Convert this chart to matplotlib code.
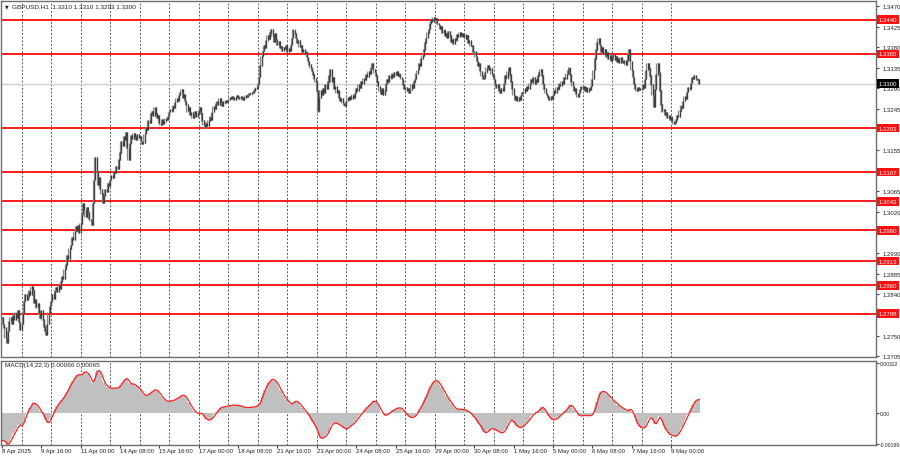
import numpy as np
import matplotlib
matplotlib.use("Agg")
import matplotlib.pyplot as plt
from matplotlib import font_manager
import matplotlib.transforms as mtransforms

# ---------------- data (GBPUSD H1, hourly closes) ----------------
close = [
    # 8 Apr 08:00-23:00
    1.2790, 1.2775, 1.2768, 1.2745, 1.2735, 1.2760, 1.2782, 1.2790, 1.2775, 1.2795, 1.2785, 1.2800, 1.2790, 1.2805, 1.2780, 1.2762,
    # 9 Apr
    1.2775, 1.2800, 1.2825, 1.2840, 1.2828, 1.2835, 1.2848, 1.2840, 1.2858, 1.2850, 1.2822, 1.2830, 1.2812, 1.2820, 1.2800, 1.2790,
    1.2805, 1.2785, 1.2770, 1.2760, 1.2752, 1.2775, 1.2800, 1.2815,
    # 10 Apr
    1.2825, 1.2840, 1.2830, 1.2848, 1.2855, 1.2845, 1.2860, 1.2852, 1.2868, 1.2880, 1.2875, 1.2895, 1.2905, 1.2925, 1.2918, 1.2940,
    1.2948, 1.2965, 1.2960, 1.2978, 1.2988, 1.2980, 1.2992, 1.2975,
    # 11 Apr
    1.2995, 1.3015, 1.3040, 1.3025, 1.3010, 1.3030, 1.3020, 1.3005, 1.3000, 1.2992, 1.3040, 1.3090, 1.3140, 1.3110, 1.3080, 1.3095,
    1.3070, 1.3060, 1.3040, 1.3055, 1.3070, 1.3065, 1.3082, 1.3078,
    # 14 Apr
    1.3090, 1.3100, 1.3095, 1.3110, 1.3105, 1.3120, 1.3115, 1.3135, 1.3150, 1.3175, 1.3165, 1.3185, 1.3178, 1.3195, 1.3160, 1.3135,
    1.3170, 1.3188, 1.3180, 1.3192, 1.3185, 1.3178, 1.3190, 1.3182,
    # 15 Apr
    1.3185, 1.3175, 1.3168, 1.3172, 1.3190, 1.3205, 1.3200, 1.3220, 1.3215, 1.3235, 1.3240, 1.3230, 1.3248, 1.3235, 1.3225, 1.3232,
    1.3215, 1.3210, 1.3222, 1.3212, 1.3218, 1.3225, 1.3222, 1.3230,
    # 16 Apr
    1.3238, 1.3245, 1.3240, 1.3252, 1.3248, 1.3260, 1.3268, 1.3262, 1.3275, 1.3282, 1.3288, 1.3270, 1.3278, 1.3262, 1.3255, 1.3240,
    1.3248, 1.3232, 1.3238, 1.3225, 1.3232, 1.3240, 1.3228, 1.3235,
    # 17 Apr
    1.3242, 1.3248, 1.3235, 1.3220, 1.3210, 1.3205, 1.3215, 1.3208, 1.3220, 1.3228, 1.3222, 1.3238, 1.3250, 1.3245, 1.3258, 1.3262,
    1.3255, 1.3268, 1.3260, 1.3252, 1.3262, 1.3258, 1.3265, 1.3260,
    # 18 Apr
    1.3265, 1.3270, 1.3268, 1.3272, 1.3270, 1.3266, 1.3270, 1.3274, 1.3271, 1.3268, 1.3272, 1.3270, 1.3266, 1.3270, 1.3275, 1.3272,
    1.3276, 1.3280, 1.3277, 1.3282, 1.3280, 1.3285, 1.3290, 1.3292,
    # 21 Apr
    1.3300, 1.3315, 1.3340, 1.3360, 1.3372, 1.3385, 1.3378, 1.3395, 1.3405, 1.3398, 1.3412, 1.3420, 1.3405, 1.3392, 1.3410, 1.3398,
    1.3385, 1.3392, 1.3378, 1.3382, 1.3372, 1.3380, 1.3376, 1.3384,
    # 22 Apr
    1.3370, 1.3378, 1.3372, 1.3385, 1.3400, 1.3418, 1.3410, 1.3400, 1.3390, 1.3395, 1.3380, 1.3385, 1.3370, 1.3375, 1.3365, 1.3370,
    1.3358, 1.3350, 1.3342, 1.3335, 1.3328, 1.3320, 1.3312, 1.3305,
    # 23 Apr
    1.3285, 1.3240, 1.3270, 1.3285, 1.3275, 1.3290, 1.3280, 1.3298, 1.3290, 1.3305, 1.3318, 1.3332, 1.3305, 1.3315, 1.3290, 1.3295,
    1.3280, 1.3285, 1.3270, 1.3262, 1.3268, 1.3258, 1.3255, 1.3252,
    # 24 Apr
    1.3262, 1.3270, 1.3265, 1.3272, 1.3268, 1.3276, 1.3270, 1.3280, 1.3290, 1.3285, 1.3298, 1.3292, 1.3305, 1.3300, 1.3312, 1.3308,
    1.3320, 1.3315, 1.3328, 1.3322, 1.3335, 1.3345, 1.3332, 1.3325,
    # 25 Apr
    1.3318, 1.3305, 1.3295, 1.3285, 1.3278, 1.3290, 1.3275, 1.3285, 1.3300, 1.3310, 1.3305, 1.3318, 1.3312, 1.3322, 1.3315, 1.3325,
    1.3320, 1.3328, 1.3318, 1.3322, 1.3315, 1.3310, 1.3298, 1.3290,
    # 28 Apr
    1.3292, 1.3285, 1.3290, 1.3280, 1.3286, 1.3298, 1.3292, 1.3305, 1.3310, 1.3322, 1.3330, 1.3345, 1.3340, 1.3355, 1.3362, 1.3375,
    1.3390, 1.3400, 1.3412, 1.3420, 1.3432, 1.3440, 1.3435, 1.3445,
    # 29 Apr
    1.3440, 1.3443, 1.3432, 1.3428, 1.3420, 1.3425, 1.3412, 1.3418, 1.3405, 1.3410, 1.3400, 1.3415, 1.3405, 1.3392, 1.3398, 1.3388,
    1.3400, 1.3395, 1.3408, 1.3402, 1.3412, 1.3405, 1.3410, 1.3402,
    # 30 Apr
    1.3408, 1.3398, 1.3405, 1.3390, 1.3395, 1.3382, 1.3385, 1.3370, 1.3372, 1.3360, 1.3350, 1.3340, 1.3345, 1.3328, 1.3318, 1.3310,
    1.3312, 1.3325, 1.3335, 1.3340, 1.3330, 1.3335, 1.3322, 1.3318,
    # 1 May
    1.3310, 1.3300, 1.3292, 1.3298, 1.3285, 1.3280, 1.3290, 1.3285, 1.3300, 1.3318, 1.3312, 1.3328, 1.3336, 1.3320, 1.3305, 1.3290,
    1.3275, 1.3266, 1.3272, 1.3262, 1.3270, 1.3265, 1.3275, 1.3282,
    # 2 May
    1.3280, 1.3290, 1.3285, 1.3295, 1.3290, 1.3300, 1.3310, 1.3305, 1.3315, 1.3300, 1.3310, 1.3305, 1.3318, 1.3325, 1.3332, 1.3318,
    1.3300, 1.3290, 1.3280, 1.3275, 1.3270, 1.3265, 1.3272, 1.3268,
    # 5 May
    1.3275, 1.3285, 1.3280, 1.3292, 1.3288, 1.3300, 1.3295, 1.3305, 1.3300, 1.3315, 1.3310, 1.3322, 1.3330, 1.3335, 1.3320, 1.3305,
    1.3295, 1.3285, 1.3290, 1.3278, 1.3272, 1.3280, 1.3288, 1.3295,
    # 6 May
    1.3288, 1.3295, 1.3285, 1.3292, 1.3282, 1.3290, 1.3286, 1.3295, 1.3310, 1.3330, 1.3355, 1.3375, 1.3390, 1.3400, 1.3385, 1.3370,
    1.3380, 1.3365, 1.3375, 1.3360, 1.3368, 1.3355, 1.3362, 1.3350,
    # 7 May
    1.3358, 1.3365, 1.3352, 1.3360, 1.3348, 1.3355, 1.3345, 1.3358, 1.3350, 1.3345, 1.3352, 1.3342, 1.3350, 1.3365, 1.3375, 1.3350,
    1.3330, 1.3315, 1.3300, 1.3290, 1.3285, 1.3292, 1.3286, 1.3290,
    # 8 May
    1.3288, 1.3298, 1.3292, 1.3310, 1.3330, 1.3345, 1.3335, 1.3318, 1.3298, 1.3275, 1.3250, 1.3288, 1.3320, 1.3345, 1.3325, 1.3285,
    1.3255, 1.3240, 1.3245, 1.3232, 1.3238, 1.3225, 1.3232, 1.3222,
    # 9 May
    1.3228, 1.3218, 1.3212, 1.3215, 1.3222, 1.3232, 1.3228, 1.3242, 1.3252, 1.3248, 1.3262, 1.3272, 1.3268, 1.3282, 1.3292, 1.3288,
    1.3302, 1.3315, 1.3310, 1.3318, 1.3312, 1.3308, 1.3310, 1.3300,
]

level_prices = [1.3440, 1.3365, 1.3203, 1.3107, 1.3043, 1.2980, 1.2913, 1.2860, 1.2798]
level_labels = ["1.3440", "1.3365", "1.3203", "1.3107", "1.3043", "1.2980", "1.2913", "1.2860", "1.2798"]
current_price = 1.3300
current_label = "1.3300"

price_ticks = [1.3470, 1.3425, 1.3380, 1.3335, 1.3290, 1.3245, 1.3200, 1.3155, 1.3110,
               1.3065, 1.3020, 1.2975, 1.2930, 1.2885, 1.2840, 1.2795, 1.2750, 1.2705]
# labels hidden behind the level boxes in the reference are left blank
price_tick_labels = ["1.3470", "1.3425", "1.3380", "1.3335", "1.3290", "1.3245", "", "1.3155", "",
                     "1.3065", "1.3020", "", "1.2930", "1.2885", "1.2840", "", "1.2750", "1.2705"]

day_start_bars = [16, 40, 64, 88, 112, 136, 160, 184, 208, 232, 256, 280, 304, 328, 352,
                  376, 400, 424, 448, 472, 496, 520, 544]
date_label_bars = [0, 32, 64, 96, 128, 160, 192, 224, 256, 288, 320, 352, 384, 416, 448, 480, 512, 544]
date_labels = ["8 Apr 2025", "9 Apr 16:00", "11 Apr 00:00", "14 Apr 08:00", "15 Apr 16:00",
               "17 Apr 00:00", "18 Apr 08:00", "21 Apr 16:00", "23 Apr 00:00", "24 Apr 08:00",
               "25 Apr 16:00", "29 Apr 00:00", "30 Apr 08:00", "1 May 16:00", "5 May 00:00",
               "6 May 08:00", "7 May 16:00", "9 May 00:00"]

macd_ticks = [0.00322, 0.0, -0.00199]
macd_tick_labels = ["0.00322", "0.00", "-0.00199"]

symbol_title = "GBPUSD,H1  1.3310 1.3310 1.3293 1.3300"
macd_title = "MACD(14,22,3) 0.00066 0.00065"
fast_period, slow_period, signal_period = 14, 22, 3
ema_fast_start, ema_slow_start = 1.2819, 1.2837   # indicator state before the first visible bar

# ---------------- indicator ----------------
c = np.array(close)
n = len(c)
idx = np.arange(n)

def ema(values, period, start):
    a = 2.0 / (period + 1)
    out = np.empty_like(values)
    prev = start
    for i, v in enumerate(values):
        prev = a * v + (1 - a) * prev
        out[i] = prev
    return out

macd_main = ema(c, fast_period, ema_fast_start) - ema(c, slow_period, ema_slow_start)
macd_signal = np.array([macd_main[max(0, i - signal_period + 1):i + 1].mean() for i in range(n)])

# ---------------- fonts ----------------
available = {f.name for f in font_manager.fontManager.ttflist}
FAM = [f for f in ["Liberation Sans Narrow", "Liberation Sans", "DejaVu Sans"] if f in available]
plt.rcParams["font.family"] = FAM
FS = 4.3

# ---------------- figure ----------------
W, H = 900, 460
fig = plt.figure(figsize=(9, 4.6), dpi=100)
fig.patch.set_facecolor("white")

def rect(x0, y0, x1, y1):
    return [x0 / W, 1 - y1 / H, (x1 - x0) / W, (y1 - y0) / H]

ax = fig.add_axes(rect(1, 2, 876, 358))
axm = fig.add_axes(rect(1, 362, 876, 446), sharex=ax)

XMIN, XMAX = -0.8, 710.6
ax.set_xlim(XMIN, XMAX)
ax.set_ylim(1.27034, 1.34807)
axm.set_ylim(-0.00207, 0.00335)

spine_col = "#6e6e6e"
for a in (ax, axm):
    a.set_facecolor("white")
    for s in a.spines.values():
        s.set_color(spine_col)
        s.set_linewidth(1.0)
    for d in day_start_bars:
        a.axvline(d, color="#3a3a3a", lw=0.6, ls=(0, (2.2, 2.2)), zorder=1)

# candles: body from previous close to close, shadow across neighbouring closes
o = np.r_[c[0], c[:-1]]
nx = np.r_[c[1:], c[-1]]
lo = np.minimum(o, c)
hi = np.maximum(o, c)
wlo = np.minimum(lo, nx)
whi = np.maximum(hi, nx)
ax.vlines(idx, wlo - 0.00006, whi + 0.00006, color="#8a8a8a", lw=0.9, zorder=2.6)
ax.vlines(idx, lo - 0.00004, hi + 0.00004, color="#404040", lw=0.9, zorder=3)

# level lines
for p in level_prices:
    ax.axhline(p, color="#ff1a1a", lw=1.4, zorder=2)
ax.axhline(current_price, color="#d0d0d0", lw=1.0, zorder=1.5)

# price axis
ax.yaxis.tick_right()
ax.set_yticks(price_ticks)
ax.set_yticklabels(price_tick_labels)
ax.tick_params(axis="y", length=2.5, width=0.8, color="#444444", pad=2,
               labelsize=FS, labelcolor="#222222")
ax.tick_params(axis="x", bottom=False, labelbottom=False)

lab_tr = mtransforms.blended_transform_factory(ax.transAxes, ax.transData)
xl = (878.5 - 1) / 875.0
box = dict(boxstyle="square,pad=0.3", ec="none")
for p, t in zip(level_prices, level_labels):
    ax.text(xl, p, t, transform=lab_tr, ha="left", va="center", fontsize=FS,
            color="white", clip_on=False, zorder=5, bbox=dict(box, fc="#ff1010"))
ax.text(xl, current_price, current_label, transform=lab_tr, ha="left", va="center",
        fontsize=FS, color="white", clip_on=False, zorder=5, bbox=dict(box, fc="#000000"))

ax.text(4 / 875, 1 - 5 / 356, "\u25BC", transform=ax.transAxes, ha="left", va="center",
        fontsize=3.5, color="#222222", family=["DejaVu Sans"])
ax.text(11 / 875, 1 - 5 / 356, symbol_title, transform=ax.transAxes, ha="left", va="center",
        fontsize=FS + 0.3, color="#222222")

# MACD panel
axm.bar(idx, macd_main, width=1.0, color="#c0c0c0", linewidth=0, zorder=2)
axm.plot(idx, macd_signal, color="#ff2020", lw=0.9, zorder=3)
axm.yaxis.tick_right()
axm.set_yticks(macd_ticks)
axm.set_yticklabels(macd_tick_labels)
axm.tick_params(axis="y", length=1.8, width=0.8, color="#444444", pad=0.8,
                labelsize=3.6, labelcolor="#222222")
axm.set_xticks(date_label_bars)
axm.set_xticklabels([])
axm.tick_params(axis="x", length=2.5, width=0.8, color="#444444", direction="out")
axm.text(4 / 875, 1 - 4 / 84, macd_title, transform=axm.transAxes, ha="left", va="center",
         fontsize=FS + 0.3, color="#222222")

date_tr = mtransforms.blended_transform_factory(axm.transData, fig.transFigure)
for b, t in zip(date_label_bars, date_labels):
    axm.text(b, 1 - 452 / H, t, transform=date_tr, ha="left", va="center", fontsize=FS,
             color="#222222", clip_on=False)

fig.savefig("out.png", dpi=100, facecolor="white")
